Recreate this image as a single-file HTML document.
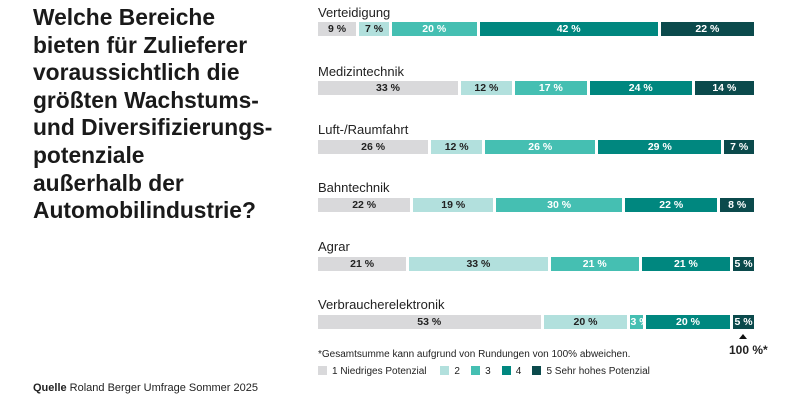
<!DOCTYPE html><html><head><meta charset="utf-8"><style>
body{margin:0;width:800px;height:400px;background:#fff;font-family:"Liberation Sans",sans-serif;position:relative;overflow:hidden}
h1{position:absolute;left:33px;top:4px;margin:0;font-size:22.8px;line-height:27.6px;font-weight:bold;color:#1a1a1a;white-space:nowrap}
.lab{position:absolute;left:318px;font-size:13px;color:#222}
.bar{position:absolute;left:318px;width:436px;height:14px;display:flex;gap:3px}
.bar div{height:14px;font-size:10.5px;font-weight:bold;text-align:center;line-height:14px;overflow:hidden;white-space:nowrap}
.c1{background:#d9d9db;color:#222}.c2{background:#b2e0dd;color:#222}.c3{background:#45bfb2;color:#fff}.c4{background:#00877f;color:#fff}.c5{background:#0b4a4c;color:#fff}
.foot{position:absolute;font-size:10px;color:#222}
.lg{display:inline-block;width:9px;height:9px;vertical-align:-1px;margin-right:5px}
</style></head><body>
<h1>Welche Bereiche<br>bieten für Zulieferer<br>voraussichtlich die<br>größten Wachstums-<br>und Diversifizierungs-<br>potenziale<br>außerhalb der<br>Automobilindustrie?</h1>

<div class="lab" style="top:5px">Verteidigung</div>
<div class="bar" style="top:22px"><div class="c1" style="flex:9">9 %</div><div class="c2" style="flex:7">7 %</div><div class="c3" style="flex:20">20 %</div><div class="c4" style="flex:42">42 %</div><div class="c5" style="flex:22">22 %</div></div>

<div class="lab" style="top:64px">Medizintechnik</div>
<div class="bar" style="top:81px"><div class="c1" style="flex:33">33 %</div><div class="c2" style="flex:12">12 %</div><div class="c3" style="flex:17">17 %</div><div class="c4" style="flex:24">24 %</div><div class="c5" style="flex:14">14 %</div></div>

<div class="lab" style="top:122px">Luft-/Raumfahrt</div>
<div class="bar" style="top:140px"><div class="c1" style="flex:26">26 %</div><div class="c2" style="flex:12">12 %</div><div class="c3" style="flex:26">26 %</div><div class="c4" style="flex:29">29 %</div><div class="c5" style="flex:7">7 %</div></div>

<div class="lab" style="top:180px">Bahntechnik</div>
<div class="bar" style="top:198px"><div class="c1" style="flex:22">22 %</div><div class="c2" style="flex:19">19 %</div><div class="c3" style="flex:30">30 %</div><div class="c4" style="flex:22">22 %</div><div class="c5" style="flex:8">8 %</div></div>

<div class="lab" style="top:239px">Agrar</div>
<div class="bar" style="top:257px"><div class="c1" style="flex:21">21 %</div><div class="c2" style="flex:33">33 %</div><div class="c3" style="flex:21">21 %</div><div class="c4" style="flex:21">21 %</div><div class="c5" style="flex:5">5 %</div></div>

<div class="lab" style="top:297px">Verbraucherelektronik</div>
<div class="bar" style="top:315px"><div class="c1" style="flex:53">53 %</div><div class="c2" style="flex:20">20 %</div><div class="c3" style="flex:3">3 %</div><div class="c4" style="flex:20">20 %</div><div class="c5" style="flex:5">5 %</div></div>

<div style="position:absolute;left:739px;top:334px;width:0;height:0;border-left:4px solid transparent;border-right:4px solid transparent;border-bottom:5px solid #111"></div>
<div class="foot" style="left:729px;top:343px;font-size:12px;font-weight:bold">100 %*</div>
<div class="foot" style="left:318px;top:349px">*Gesamtsumme kann aufgrund von Rundungen von 100% abweichen.</div>
<div class="foot" style="left:318px;top:366px"><span class="lg c1"></span>1 Niedriges Potenzial &nbsp;&nbsp;&nbsp;&nbsp;<span class="lg c2"></span>2 &nbsp;&nbsp;&nbsp;<span class="lg c3"></span>3 &nbsp;&nbsp;&nbsp;<span class="lg c4"></span>4 &nbsp;&nbsp;&nbsp;<span class="lg c5"></span>5 Sehr hohes Potenzial</div>
<div class="foot" style="left:33px;top:382px;font-size:11px"><b>Quelle</b> Roland Berger Umfrage Sommer 2025</div>
</body></html>
